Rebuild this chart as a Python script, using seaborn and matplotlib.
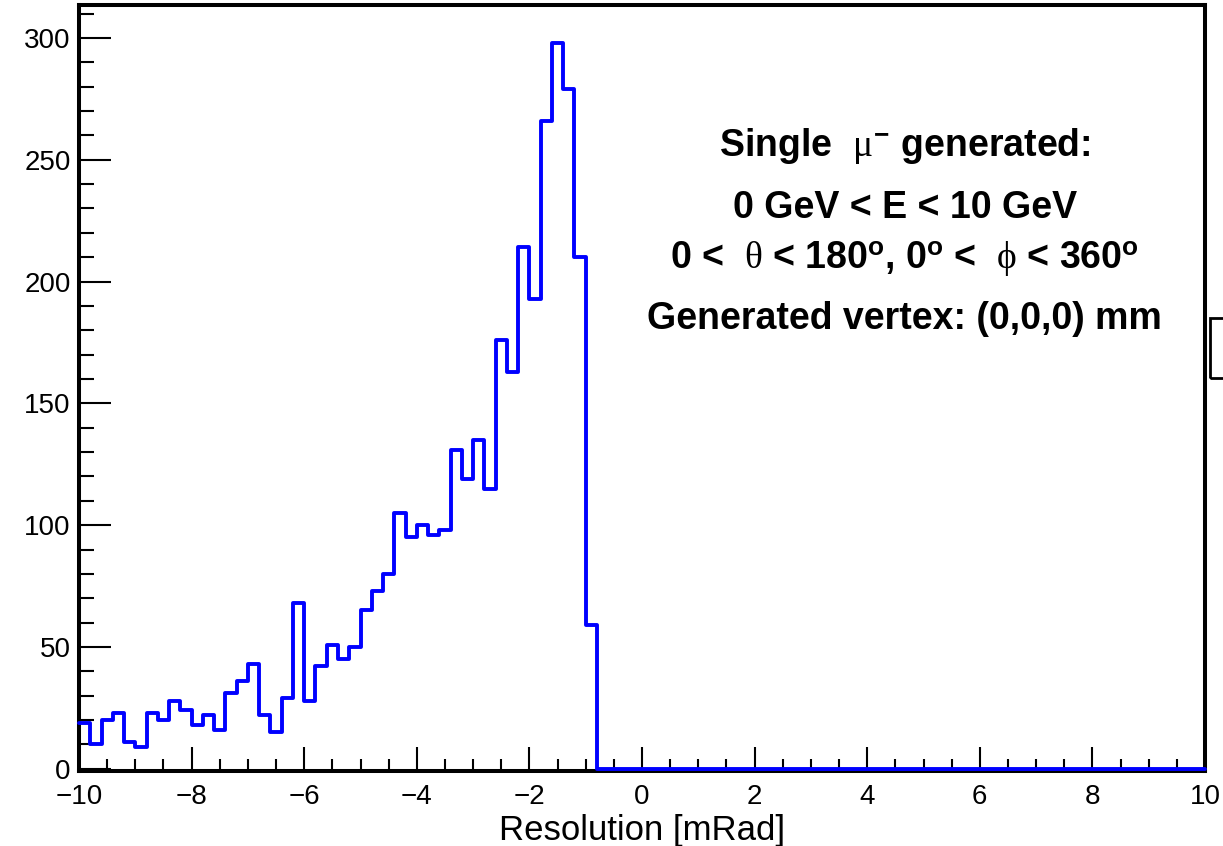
import numpy as np
import pandas as pd
import matplotlib
matplotlib.use("Agg")
import matplotlib.pyplot as plt
import seaborn as sns
from matplotlib.ticker import MultipleLocator
from matplotlib.patches import Rectangle

# ---- data ----
x_min, x_max, n_bins = -10, 10, 100
nonzero_counts = [19, 10, 20, 23, 11, 9, 23, 20, 28, 24, 18, 22, 16, 31, 36, 43, 22, 15,
                  29, 68, 28, 42, 51, 45, 50, 65, 73, 80, 105, 95, 100, 96, 98, 131, 119,
                  135, 115, 176, 163, 214, 193, 266, 298, 279, 210, 59]
counts = nonzero_counts + [0] * (n_bins - len(nonzero_counts))
bin_edges = np.linspace(x_min, x_max, n_bins + 1)
centers = (bin_edges[:-1] + bin_edges[1:]) / 2
df = pd.DataFrame({"res": centers, "n": counts})

xlabel = "Resolution [mRad]"
info_lines = [r"Single  $\mu^{\mathbf{-}}$ generated:",
              "0 GeV < E < 10 GeV",
              r"0 <  $\theta$ < 180$^{\mathbf{o}}$, 0$^{\mathbf{o}}$ <  $\phi$ < 360$^{\mathbf{o}}$",
              "Generated vertex: (0,0,0) mm"]

sns.set_style("white")
plt.rcParams['font.family'] = ['Liberation Sans', 'DejaVu Sans']
plt.rcParams['text.color'] = 'black'
plt.rcParams['axes.labelcolor'] = 'black'
plt.rcParams['xtick.color'] = 'black'
plt.rcParams['ytick.color'] = 'black'
plt.rcParams['mathtext.fontset'] = 'custom'
plt.rcParams['mathtext.rm'] = 'Liberation Sans'
plt.rcParams['mathtext.bf'] = 'Liberation Sans:bold'
plt.rcParams['mathtext.it'] = 'Liberation Serif'

fig = plt.figure(figsize=(12.23, 8.46), dpi=100)
ax = fig.add_axes([79/1223, 75/846, (1205-79)/1223, (771-5)/846])

sns.histplot(data=df, x="res", weights="n", binwidth=(x_max - x_min) / n_bins,
             binrange=(x_min, x_max), element="step",
             fill=False, color="#0000ff", linewidth=2.8, ax=ax)
for ln in ax.lines + list(ax.patches) + list(ax.collections):
    ln.set_clip_on(False)
    ln.set_zorder(3)

ax.set_xlim(x_min, x_max)
ax.set_ylim(-0.9, 313.5)
ax.set_xlabel(xlabel, fontsize=25, labelpad=3)
ax.set_ylabel("")

ax.xaxis.set_major_locator(MultipleLocator(2))
ax.xaxis.set_minor_locator(MultipleLocator(0.5))
ax.yaxis.set_major_locator(MultipleLocator(50))
ax.yaxis.set_minor_locator(MultipleLocator(10))
ax.tick_params(axis="x", which="major", direction="in", length=17, width=1.5, labelsize=20, pad=9, bottom=True)
ax.tick_params(axis="x", which="minor", direction="in", length=9, width=1.5, bottom=True)
ax.tick_params(axis="y", which="major", direction="in", length=23, width=1.5, labelsize=20, pad=6, left=True)
ax.tick_params(axis="y", which="minor", direction="in", length=11, width=1.5, left=True)

for s in ax.spines.values():
    s.set_visible(True)
    s.set_color("black")
    s.set_linewidth(2.9)

ys = [255.7, 230, 209, 184.6]
for txt, yv in zip(info_lines, ys):
    ax.text(4.67, yv, txt, ha="center", va="center", fontsize=27, fontweight="bold")

# clipped stats box at right edge
fig.patches.append(Rectangle((1210/1223, (846-378)/846), 30/1223, 60/846,
                             transform=fig.transFigure, fill=False,
                             edgecolor="black", linewidth=2, figure=fig))

fig.savefig("out.png", dpi=100)
